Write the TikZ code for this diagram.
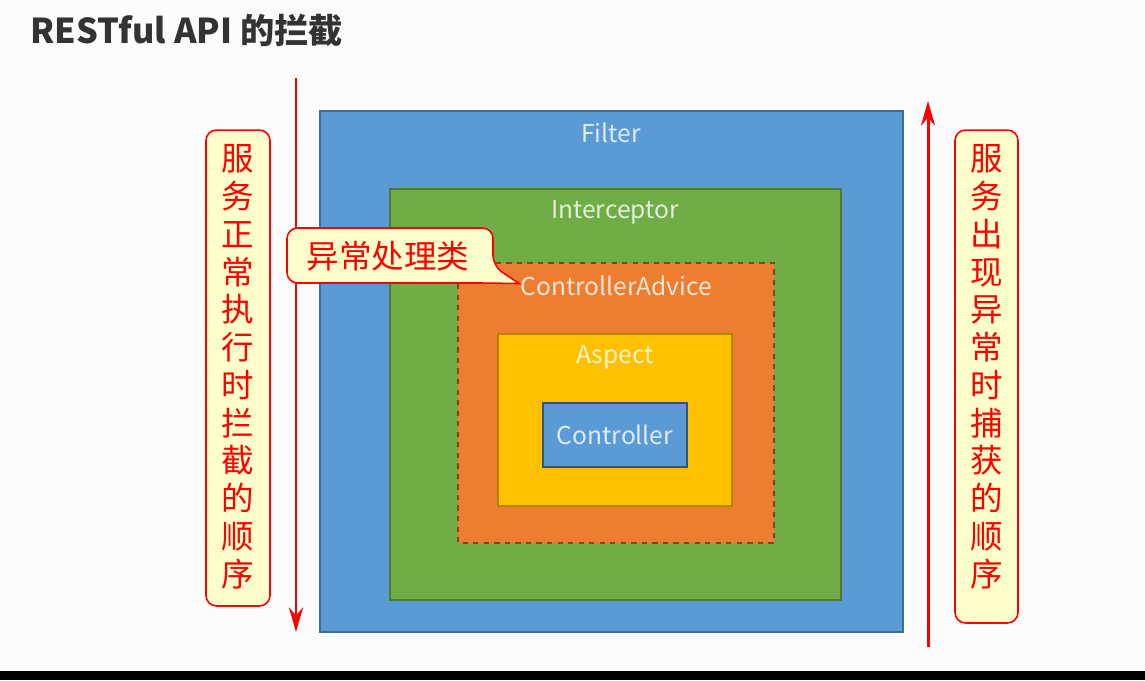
\documentclass[tikz,border=0pt]{standalone}
\usepackage{fontspec}
\newfontfamily\cjk{Noto Sans CJK SC}
\usetikzlibrary{arrows.meta}
\definecolor{filterblue}{HTML}{5B9BD5}
\definecolor{intgreen}{HTML}{70AD47}
\definecolor{advorange}{HTML}{ED7D31}
\definecolor{aspyellow}{HTML}{FFC000}
\definecolor{noteyellow}{HTML}{FFFFCC}
\definecolor{titlegray}{HTML}{333333}
\tikzset{
  layer/.style={fill=#1, draw=#1!70!black, line width=0.7pt},
  layertext/.style={text=white!80!#1, font=\cjk\fontsize{14}{16}\selectfont, inner sep=0pt},
  note/.style={draw=red, fill=noteyellow, line width=0.9pt, rounded corners=6pt},
  notetext/.style={text=red, font=\cjk\fontsize{18.5}{21.5}\selectfont, align=center, inner sep=0pt},
  flow/.style={draw=red, line width=1.7pt, -{Stealth[length=14pt,width=8pt]}}
}
\begin{document}
\begin{tikzpicture}[x=0.02cm, y=-0.02cm]

			% Hintergrund
			\fill[white!99!black] (0,0) rectangle (1145,680);
			\useasboundingbox (0,0) rectangle (1145,680);
			\fill[black] (0,671) rectangle (1145,680);

			% Titel
			\node (title) [anchor=base west, text=titlegray, font=\cjk\bfseries\fontsize{19.5}{22}\selectfont, inner sep=0pt] at (30,43) {RESTful API 的拦截};

			% Schichten von aussen nach innen
			\draw[layer=filterblue] (320,111) rectangle (903,632);
			\node (filterlabel) [layertext=filterblue] at (611,133) {Filter};
			\draw[layer=intgreen] (390,189) rectangle (841,600);
			\node (intlabel) [layertext=intgreen] at (615,212) {Interceptor};
			\draw[fill=advorange, draw=advorange!55!black, line width=0.7pt, dashed] (458,263) rectangle (774,543);
			\node (advlabel) [layertext=advorange] at (616,286) {ControllerAdvice};
			\draw[layer=aspyellow] (498,334) rectangle (732,506);
			\node (asplabel) [layertext=aspyellow] at (615,357) {Aspect};
			\draw[fill=filterblue, draw=filterblue!55!black, line width=0.7pt] (543,403) rectangle (687,467);
			\node (ctrllabel) [layertext=filterblue] at (615,435) {Controller};

			% Reihenfolge (Pfeile)
			\coordinate (downstart) at (296,78);
			\coordinate (downend) at (296,632);
			\draw[flow] (downstart) -- (downend);
			\coordinate (upstart) at (928,647);
			\coordinate (upend) at (928,101);
			\draw[flow] (upstart) -- (upend);

			% Hinweise links und rechts
			\node (leftnote) [note, minimum width=1.28cm, minimum height=9.52cm] at (238,368) {};
			\node (lefttext) [notetext, anchor=north] at ([yshift=-0.3cm]leftnote.north) {服\\务\\正\\常\\执\\行\\时\\拦\\截\\的\\顺\\序};
			\node (rightnote) [note, minimum width=1.26cm, minimum height=9.86cm] at (986.5,376.5) {};
			\node (righttext) [notetext, anchor=north] at ([yshift=-0.3cm]rightnote.north) {服\\务\\出\\现\\异\\常\\时\\捕\\获\\的\\顺\\序};

			% Sprechblase
			\coordinate (catchtip) at ([xshift=-0.02cm,yshift=0.05cm]advlabel.west);
			\draw[note] (287,255) |- (493,228) -- (493,266) [sharp corners] -- (catchtip) -- (480,283) [rounded corners=6pt] -| (287,255) -- cycle;
			\node (catchnote) [notetext] at (388,256) {异常处理类};

\end{tikzpicture}
\end{document}
